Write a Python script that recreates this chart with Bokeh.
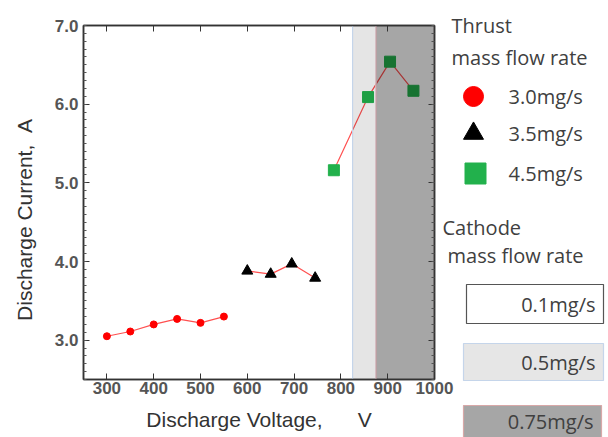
import numpy as np
from bokeh.plotting import figure
from bokeh.layouts import row
from bokeh.models import (FixedTicker, LinearAxis, Range1d, ColumnDataSource,
                          NumeralTickFormatter)
from bokeh.core.properties import value
from bokeh.embed import file_html
from bokeh.resources import INLINE

# ---------------- data ----------------
v_30 = [300, 350, 400, 450, 500, 550]
i_30 = [3.05, 3.11, 3.20, 3.27, 3.22, 3.30]

v_35 = [600, 650, 695, 745]
i_35 = [3.88, 3.84, 3.97, 3.79]

v_45 = [785, 858, 905, 955]
i_45 = [5.16, 6.09, 6.54, 6.17]

cathode_left = [825, 875]
cathode_right = [875, 1000]
cathode_alpha = [0.10, 0.35]
cathode_border = ["#c5d5ea", "#d8a8a8"]

x_ticks = [300, 400, 500, 600, 700, 800, 900, 1000]
y_ticks = [3.0, 4.0, 5.0, 6.0, 7.0]

thrust_title = ["Thrust", "mass flow rate"]
thrust_labels = ["3.0mg/s", "3.5mg/s", "4.5mg/s"]
cathode_title = ["Cathode", "mass flow rate"]
cathode_labels = ["0.1mg/s", "0.5mg/s", "0.75mg/s"]

# ---------------- main plot ----------------
W1, H = 468, 437
BL, BT, BB = 83, 25, 58
FW = 351
X0, X1, Y0, Y1 = 250, 1000, 2.5, 7.0

p = figure(width=W1, height=H, output_backend="svg", toolbar_location=None,
           x_range=Range1d(X0, X1), y_range=Range1d(Y0, Y1),
           min_border_left=BL, min_border_right=W1 - BL - FW,
           min_border_top=BT, min_border_bottom=BB,
           background_fill_color="white", border_fill_color="white")
p.frame_align = False
p.grid.visible = False
p.outline_line_color = "#333333"
p.outline_line_width = 1.5

AX = "#333333"
minor_y = list(np.round(np.arange(2.5, 7.01, 0.1), 2))

def style_axis(ax):
    ax.axis_line_color = AX
    ax.axis_line_width = 1.5
    ax.major_tick_in = 6
    ax.major_tick_out = 0
    ax.minor_tick_in = 3
    ax.minor_tick_out = 0
    ax.major_tick_line_color = AX
    ax.minor_tick_line_color = "#555555"
    ax.major_label_text_font = "Liberation Sans"
    ax.major_label_text_font_style = "bold"
    ax.major_label_text_font_size = "17px"
    ax.major_label_text_color = "#555555"

xa = p.xaxis[0]
ya = p.yaxis[0]
style_axis(xa)
style_axis(ya)
xa.ticker = FixedTicker(ticks=x_ticks, minor_ticks=[])
ya.ticker = FixedTicker(ticks=y_ticks, minor_ticks=minor_y)
ya.formatter = NumeralTickFormatter(format="0.0")
xa.major_label_standoff = 2
ya.major_label_standoff = 5
xa.axis_label = "Discharge Voltage,\u00a0\u00a0\u00a0\u00a0\u00a0\u00a0V"
ya.axis_label = "Discharge Current,\u00a0\u00a0A" + "\u00a0" * 6
for ax in (xa, ya):
    ax.axis_label_text_font = "Liberation Sans"
    ax.axis_label_text_font_style = "normal"
    ax.axis_label_text_font_size = "21px"
    ax.axis_label_text_color = "#333333"
xa.axis_label_standoff = 11
ya.axis_label_standoff = 16

top = LinearAxis(ticker=FixedTicker(ticks=x_ticks, minor_ticks=[]))
style_axis(top)
top.major_label_overrides = {t: "" for t in x_ticks}
p.add_layout(top, "above")
right = LinearAxis(ticker=FixedTicker(ticks=y_ticks, minor_ticks=minor_y))
style_axis(right)
right.major_label_overrides = {t: "" for t in y_ticks}
p.add_layout(right, "right")

LINE = "#ff5050"
p.line(v_30, i_30, line_color=LINE, line_width=1.2)
p.line(v_35, i_35, line_color=LINE, line_width=1.2)
p.line(v_45, i_45, line_color=LINE, line_width=1.2)
p.scatter(v_30, i_30, marker="circle", size=7, fill_color="#ff0000", line_color="#ff0000")
p.scatter(v_35, i_35, marker="triangle", size=11, fill_color="black", line_color="black")
p.scatter(v_45, i_45, marker="square", size=11, fill_color="#22b14c", line_color="#22b14c")

src = ColumnDataSource(dict(left=cathode_left, right=cathode_right,
                            alpha=cathode_alpha, border=cathode_border))
p.quad(left="left", right="right", bottom=Y0, top=Y1, source=src,
       fill_color="black", fill_alpha="alpha", line_color="border", line_width=1.2)

# ---------------- legend panel (page-pixel coordinates) ----------------
LX0, W2 = 438, 170
q = figure(width=W2, height=H, output_backend="svg", toolbar_location=None,
           x_range=Range1d(LX0, LX0 + W2), y_range=Range1d(H, 0),
           min_border=0, background_fill_color=None, border_fill_color=None,
           margin=(0, 0, 0, -(W1 - LX0)))
q.frame_align = False
q.axis.visible = False
q.grid.visible = False
q.outline_line_color = None

LF = value("Open Sans")
TXT = "#404040"
FS = "20px"

q.text(x=[451, 451], y=[25, 57], text=thrust_title, text_font=LF,
       text_font_size=FS, text_color=TXT, text_baseline="middle")
q.text(x=[442, 447], y=[227, 255], text=cathode_title, text_font=LF,
       text_font_size=FS, text_color=TXT, text_baseline="middle")

leg_y = [96, 133, 173]
q.scatter(x=[473, 473, 475], y=leg_y, marker=["circle", "triangle", "square"],
          size=[20, 20, 21], fill_color=["#ff0000", "black", "#22b14c"],
          line_color=["#ff0000", "black", "#22b14c"])
q.text(x=[508] * 3, y=leg_y, text=thrust_labels, text_font=LF,
       text_font_size=FS, text_color=TXT, text_baseline="middle")

box_src = ColumnDataSource(dict(
    left=[466, 463, 463], right=[603, 603, 601],
    top=[284, 343, 405], bottom=[323, 380, 450],
    fill=["white", "#e6e6e6", "#a6a6a6"], line=["#555555", "#c5d5ea", "#d8a8a8"]))
q.quad(left="left", right="right", top="top", bottom="bottom", source=box_src,
       fill_color="fill", line_color="line", line_width=1.2)
q.text(x=[595, 595, 593], y=[304, 362, 421], text=cathode_labels, text_font=LF,
       text_font_size=FS, text_color=TXT, text_baseline="middle", text_align="right")

layout = row(p, q)
open("out.html", "w").write(file_html(layout, INLINE))
